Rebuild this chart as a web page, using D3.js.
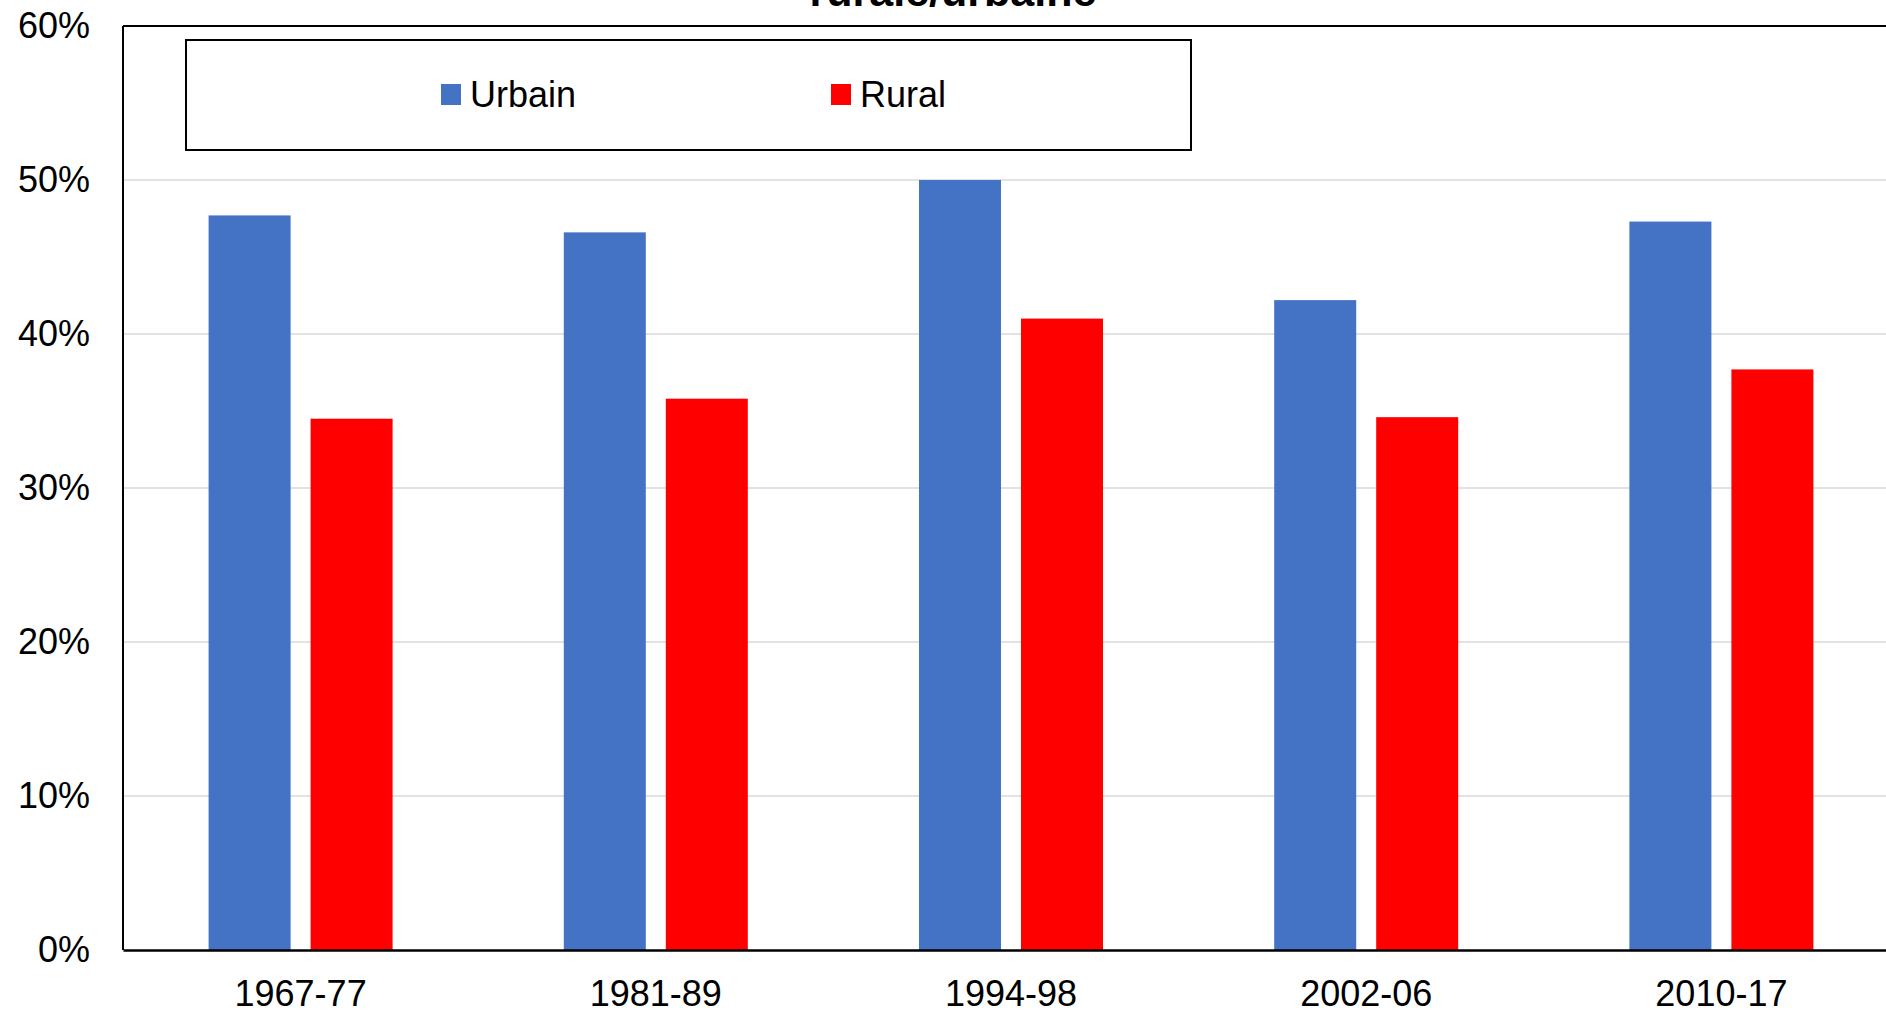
<!DOCTYPE html>
<html>
<head>
<meta charset="utf-8">
<script src="https://cdn.jsdelivr.net/npm/d3@7"></script>
<style>
  html, body { margin: 0; padding: 0; background: #fff; overflow: hidden; }
  svg { display: block; font-family: "Liberation Sans", Arial, sans-serif; }
</style>
</head>
<body>
<svg id="chart" width="1886" height="1013"></svg>
<script>
// ---- data ----
const categories = ["1967-77", "1981-89", "1994-98", "2002-06", "2010-17"];
const seriesNames = ["Urbain", "Rural"];
const urbain = [0.477, 0.466, 0.500, 0.422, 0.473];
const rural = [0.345, 0.358, 0.410, 0.346, 0.377];
const yTicks = [0, 0.1, 0.2, 0.3, 0.4, 0.5, 0.6];
const colors = ["#4472C4", "#FF0000"];
const titleText = "rurale/urbaine";

const svg = d3.select("#chart");
const plot = { left: 123, top: 26, right: 1899, bottom: 950 };

const x0 = d3.scaleBand().domain(categories).range([plot.left, plot.right]).paddingInner(0).paddingOuter(0);
const step = x0.bandwidth();
const groupW = 184;
const x1 = d3.scaleBand().domain(seriesNames)
  .range([(step - groupW) / 2, (step + groupW) / 2])
  .paddingInner(20 / 102).paddingOuter(0);
const y = d3.scaleLinear().domain([0, 0.6]).range([plot.bottom, plot.top]);
const color = d3.scaleOrdinal().domain(seriesNames).range(colors);

// gridlines
svg.append("g").selectAll("line").data(yTicks.filter(t => t > 0 && t < 0.6)).join("line")
  .attr("x1", plot.left).attr("x2", plot.right)
  .attr("y1", d => y(d)).attr("y2", d => y(d))
  .attr("stroke", "#D9D9D9").attr("stroke-width", 1.5);

// bars
const rows = categories.map((c, i) => ({ cat: c, values: [urbain[i], rural[i]] }));
const groups = svg.append("g").selectAll("g").data(rows).join("g")
  .attr("transform", d => `translate(${x0(d.cat)},0)`);
groups.selectAll("rect").data(d => seriesNames.map((s, j) => ({ s, v: d.values[j] }))).join("rect")
  .attr("x", d => x1(d.s)).attr("width", x1.bandwidth())
  .attr("y", d => y(d.v)).attr("height", d => y(0) - y(d.v))
  .attr("fill", d => color(d.s));

// plot border
svg.append("line").attr("x1", plot.left).attr("x2", plot.right).attr("y1", plot.top).attr("y2", plot.top)
  .attr("stroke", "#000").attr("stroke-width", 2);
svg.append("line").attr("x1", plot.left).attr("x2", plot.left).attr("y1", plot.top).attr("y2", plot.bottom)
  .attr("stroke", "#000").attr("stroke-width", 2);

// y axis
const yAxis = d3.axisLeft(y).tickValues(yTicks).tickFormat(d3.format(".0%")).tickSize(0).tickPadding(33);
const gy = svg.append("g").attr("transform", `translate(${plot.left},0)`).call(yAxis);
gy.select(".domain").remove();
gy.selectAll("text").attr("font-size", 36).attr("fill", "#000")
  .attr("font-family", "'Liberation Sans', Arial, sans-serif");

// x axis
const xAxis = d3.axisBottom(x0).tickSize(0).tickPadding(30);
const gx = svg.append("g").attr("transform", `translate(0,${plot.bottom})`).call(xAxis);
gx.select(".domain").attr("stroke", "#000").attr("stroke-width", 2.5);
gx.selectAll("text").attr("font-size", 36).attr("fill", "#000")
  .attr("font-family", "'Liberation Sans', Arial, sans-serif");

// title (partially cut off at top, as in the reference)
svg.append("text").attr("x", 953).attr("y", 6).attr("text-anchor", "middle")
  .attr("font-size", 43).attr("font-weight", "bold").attr("fill", "#000").text(titleText);

// legend
const lg = svg.append("g");
lg.append("rect").attr("x", 186).attr("y", 40).attr("width", 1005).attr("height", 110)
  .attr("fill", "#fff").attr("stroke", "#000").attr("stroke-width", 2);
const legendX = [441, 831];
const li = lg.selectAll("g.item").data(seriesNames).join("g").attr("class", "item")
  .attr("transform", (d, i) => `translate(${legendX[i]},84)`);
li.append("rect").attr("width", 20).attr("height", 21).attr("fill", d => color(d));
li.append("text").attr("x", 29).attr("y", 10.5).attr("dy", "0.35em")
  .attr("font-size", 36).attr("fill", "#000").text(d => d);
</script>
</body>
</html>
